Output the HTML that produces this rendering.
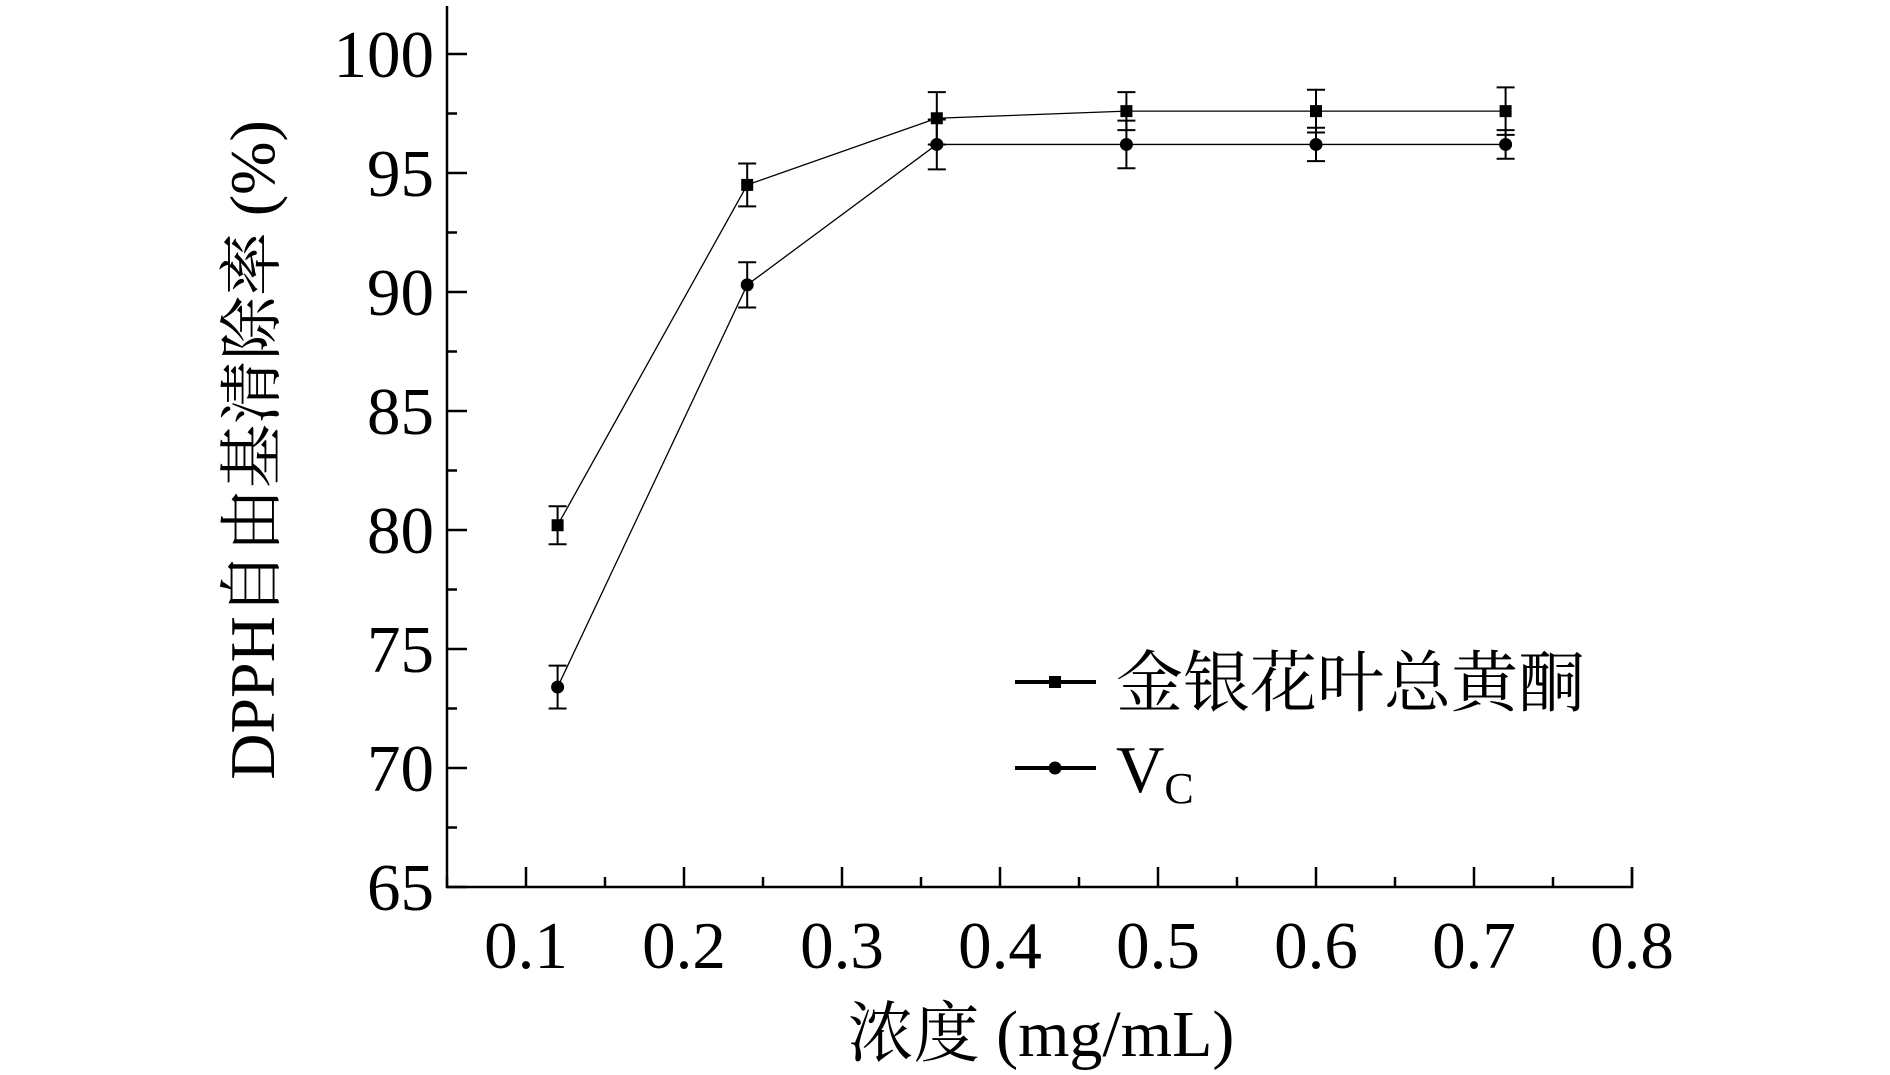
<!DOCTYPE html>
<html><head><meta charset="utf-8"><style>
html,body{margin:0;padding:0;background:#fff;}
svg{display:block;}
text{font-family:"Liberation Serif","Noto Serif CJK SC",serif;fill:#000;}
</style></head><body>
<svg id="chart" width="1890" height="1075" viewBox="0 0 1890 1075" xmlns="http://www.w3.org/2000/svg">
<g id="axes"></g><g id="series"></g>
<text transform="translate(274,450) rotate(-90)" text-anchor="middle" font-size="64">DPPH自由基清除率 (%)</text>
<text x="1041" y="1056" text-anchor="middle" font-size="66">浓度 (mg/mL)</text>
<g>
<line x1="1015" y1="682" x2="1096" y2="682" stroke="#000" stroke-width="4"/>
<rect x="1049" y="676" width="12" height="12" fill="#000"/>
<text x="1116" y="706" font-size="67">金银花叶总黄酮</text>
<line x1="1015" y1="768" x2="1096" y2="768" stroke="#000" stroke-width="4"/>
<circle cx="1055" cy="768" r="6.5" fill="#000"/>
<text x="1116" y="792" font-size="67">V<tspan font-size="44" dy="11">C</tspan></text>
</g>
</svg>
<script>
const xValues=[0.12,0.24,0.36,0.48,0.60,0.72];
const flavonoidValues=[80.2,94.5,97.3,97.6,97.6,97.6];
const flavonoidErrors=[0.8,0.9,1.1,0.8,0.9,1.0];
const vcValues=[73.4,90.3,96.2,96.2,96.2,96.2];
const vcErrors=[0.9,0.95,1.05,1.0,0.7,0.6];
const xTickLabels=["0.1","0.2","0.3","0.4","0.5","0.6","0.7","0.8"];
const yTickLabels=["65","70","75","80","85","90","95","100"];

const NS="http://www.w3.org/2000/svg";
const L=447,R=1632,B=887,T=6;
const X=v=>L+(v-0.05)*((R-L)/0.75);
const Y=v=>B-(v-65)*((B-54)/35);
function mk(tag,attrs,parent){const e=document.createElementNS(NS,tag);for(const k in attrs)e.setAttribute(k,attrs[k]);parent.appendChild(e);return e;}
const axes=document.getElementById('axes'),ser=document.getElementById('series');
let a=mk('path',{d:`M${L},${T} L${L},${B} L${R},${B} L${R},${B-20}`,fill:'none',stroke:'#000','stroke-width':2.5},axes);


for(let i=0;i<=14;i++){const v=65+i*2.5;const y=Y(v);const len=i%2?10:20;
 const t=mk('line',{x1:L,y1:y,x2:L+len,y2:y,stroke:'#000','stroke-width':2.5},axes);
 
 }
yTickLabels.forEach(s=>{const t=mk('text',{x:L-13,y:Y(+s)+23,'text-anchor':'end','font-size':67},axes);t.textContent=s;
 
 });
for(let i=0;i<=15;i++){const v=0.05+i*0.05;const x=X(v);if(x>R+1)break;const len=i%2?20:10;
 const t=mk('line',{x1:x,y1:B,x2:x,y2:B-len,stroke:'#000','stroke-width':2.5},axes);
 
 }
xTickLabels.forEach(s=>{const t=mk('text',{x:X(+s),y:B+81,'text-anchor':'middle','font-size':67},axes);t.textContent=s;
 
 });
function drawSeries(vals,errs,shape,name){
 const p=mk('polyline',{points:vals.map((v,i)=>X(xValues[i])+','+Y(v)).join(' '),fill:'none',stroke:'#000','stroke-width':1.3},ser);
 
 
 vals.forEach((v,i)=>{const x=X(xValues[i]);
  const e=mk('path',{d:`M${x},${Y(v-errs[i])} L${x},${Y(v+errs[i])} M${x-9},${Y(v-errs[i])} L${x+9},${Y(v-errs[i])} M${x-9},${Y(v+errs[i])} L${x+9},${Y(v+errs[i])}`,stroke:'#000','stroke-width':2,fill:'none'},ser);
  
  
  let m=shape==='square'?mk('rect',{x:x-6,y:Y(v)-6,width:12,height:12,fill:'#000'},ser):mk('circle',{cx:x,cy:Y(v),r:6.5,fill:'#000'},ser);
  
  });
}
drawSeries(flavonoidValues,flavonoidErrors,'square','flavonoid');
drawSeries(vcValues,vcErrors,'circle','vc');
</script>
</body></html>
